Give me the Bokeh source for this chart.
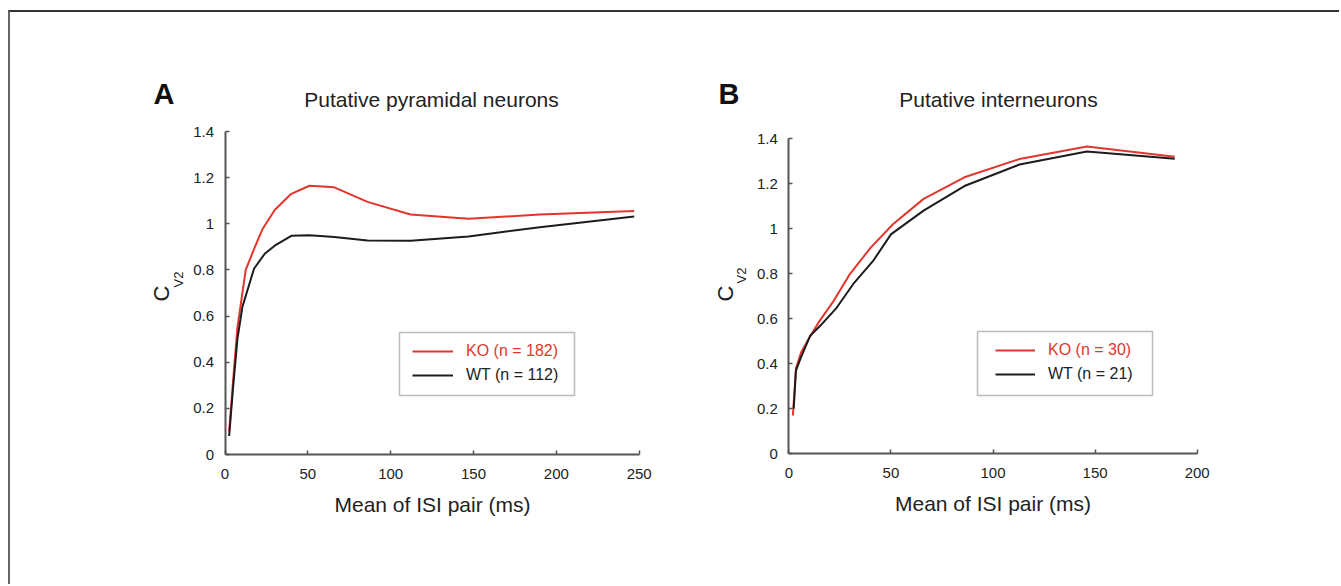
import math
from bokeh.plotting import figure
from bokeh.layouts import row
from bokeh.models import (FixedTicker, CustomJSTickFormatter, Label, BoxAnnotation,
                          Legend, LegendItem, Range1d)
from bokeh.embed import file_html
from bokeh.resources import INLINE

FONT = "Liberation Sans"
RED = "#e2362c"
BLACK = "#1c1c1c"
AXIS = "#555555"
TXT = "#222222"

# ---------------- data ----------------
# Panel A: putative pyramidal neurons
a_ko_x = [2.5, 5, 7.5, 12.5, 17.5, 22.5, 30, 40, 51, 66, 86, 112, 147, 190, 247]
a_ko_y = [0.10, 0.33, 0.55, 0.80, 0.89, 0.975, 1.06, 1.13, 1.165, 1.158, 1.095, 1.04, 1.022, 1.04, 1.055]
a_wt_x = [2.5, 5, 7.5, 10.5, 17.5, 24, 30, 40, 51, 66, 86, 112, 147, 190, 247]
a_wt_y = [0.08, 0.30, 0.50, 0.64, 0.805, 0.87, 0.905, 0.948, 0.95, 0.943, 0.928, 0.927, 0.945, 0.985, 1.032]

# Panel B: putative interneurons
b_ko_x = [2, 3.5, 6, 10, 15, 22, 30, 40, 51, 66, 86, 113, 146, 189]
b_ko_y = [0.17, 0.38, 0.45, 0.515, 0.59, 0.68, 0.80, 0.915, 1.02, 1.133, 1.229, 1.31, 1.366, 1.32]
b_wt_x = [2.4, 3.5, 6, 10.5, 15.5, 23.5, 32, 41.5, 50, 66, 86, 113, 146, 189]
b_wt_y = [0.20, 0.37, 0.43, 0.525, 0.57, 0.65, 0.76, 0.86, 0.975, 1.081, 1.19, 1.286, 1.344, 1.311]

y_ticks = [0, 0.2, 0.4, 0.6, 0.8, 1, 1.2, 1.4]
a_x_ticks = [0, 50, 100, 150, 200, 250]
b_x_ticks = [0, 50, 100, 150, 200]

a_title = "Putative pyramidal neurons"
b_title = "Putative interneurons"
x_label = "Mean of ISI pair (ms)"
a_legend = ["KO (n = 182)", "WT (n = 112)"]
b_legend = ["KO (n = 30)", "WT (n = 21)"]

# ---------------- layout (page pixels) ----------------
OX, OY = 10, 12          # content origin after margin + border
TOP_B, FH, BOT_B = 30, 480, 62
FRAME_TOP = OY + TOP_B
FRAME_BOT = FRAME_TOP + FH
K_BASE = 0.35            # empirical baseline correction (em)


def make_panel(letter, title, xmax, xticks, ko_x, ko_y, wt_x, wt_y, legend_texts, g):
    fl = g["fig_left"] + g["bl"]                   # frame left, page px
    sx = (g["ax_x1"] - g["ax_x0"]) / xmax          # px per x unit
    sy = (g["ax_y0"] - g["ax_y1"]) / 1.4           # px per y unit
    x0 = (fl - g["ax_x0"]) / sx
    x1 = x0 + g["fw"] / sx
    y0 = -(FRAME_BOT - g["ax_y0"]) / sy
    y1 = y0 + FH / sy

    def scr(px, py):
        return px - fl, FRAME_BOT - py

    p = figure(frame_width=g["fw"], frame_height=FH,
               x_range=Range1d(x0, x1), y_range=Range1d(y0, y1),
               output_backend="svg", toolbar_location=None,
               min_border_left=g["bl"], min_border_right=g["br"],
               min_border_top=TOP_B, min_border_bottom=BOT_B)
    p.outline_line_color = None
    p.grid.visible = False
    p.background_fill_color = "white"
    p.border_fill_color = "white"

    r_ko = p.line(ko_x, ko_y, line_color=RED, line_width=2)
    r_wt = p.line(wt_x, wt_y, line_color=BLACK, line_width=2)

    for ax in (p.xaxis[0], p.yaxis[0]):
        ax.axis_line_color = AXIS
        ax.axis_line_width = 2
        ax.major_tick_line_color = AXIS
        ax.major_tick_line_width = 1.5
        ax.major_tick_in = 4
        ax.major_tick_out = 0
        ax.minor_tick_line_color = None
        ax.major_label_text_font = FONT
        ax.major_label_text_font_size = "15px"
        ax.major_label_text_color = TXT
    p.xaxis.fixed_location = 0
    p.yaxis.fixed_location = 0
    p.xaxis.bounds = (0, xmax)
    p.yaxis.bounds = (0, 1.4)
    p.xaxis.ticker = FixedTicker(ticks=xticks)
    p.yaxis.ticker = FixedTicker(ticks=y_ticks)
    p.yaxis.formatter = CustomJSTickFormatter(code="return String(Math.round(tick*10)/10);")
    p.xaxis.major_label_standoff = 14
    p.yaxis.major_label_standoff = 11
    p.xaxis.axis_label = x_label
    p.xaxis.axis_label_text_font = FONT
    p.xaxis.axis_label_text_font_size = "21px"
    p.xaxis.axis_label_text_font_style = "normal"
    p.xaxis.axis_label_text_color = TXT
    p.xaxis.axis_label_standoff = 11

    def label(pos, text, size, rotated=False, **kw):
        px, py = pos
        d = K_BASE * size
        if rotated:
            px -= d
            kw["angle"] = math.pi / 2
        else:
            py -= d
        x, y = scr(px, py)
        p.add_layout(Label(x=x, y=y, x_units="screen", y_units="screen", text=text,
                           text_font=FONT, text_font_size=f"{size}px",
                           text_baseline="alphabetic", **kw))

    label(g["letter"], letter, 29, text_font_style="bold", text_color="#111111",
          text_align="left")
    label(g["title"], title, 21, text_color=TXT, text_align="center")
    label(g["c"], "C", 22, rotated=True, text_color=TXT, text_align="center")
    label(g["sub"], "V2", 13, rotated=True, text_color=TXT, text_align="left")

    bl_, bb_ = scr(g["box"][0], g["box"][3])
    br_, bt_ = scr(g["box"][1], g["box"][2])
    p.add_layout(BoxAnnotation(left=bl_, right=br_, bottom=bb_, top=bt_,
                               left_units="screen", right_units="screen",
                               bottom_units="screen", top_units="screen",
                               fill_color=None, fill_alpha=0,
                               line_color="#222222", line_width=1.5))
    for r, txt, col, rowy in ((r_ko, legend_texts[0], RED, g["leg_rows"][0]),
                              (r_wt, legend_texts[1], TXT, g["leg_rows"][1])):
        lx, ly = scr(g["leg_x"], rowy + 8)
        lg = Legend(items=[LegendItem(label=txt, renderers=[r])], location=(lx, ly),
                    border_line_color=None, background_fill_alpha=0,
                    padding=0, margin=0, spacing=0,
                    glyph_width=g["gw"], glyph_height=16, label_height=16,
                    label_standoff=13, label_text_font=FONT,
                    label_text_font_size="16px", label_text_color=col)
        p.add_layout(lg, "center")
    return p


geo_a = {"fig_left": OX, "bl": 50, "fw": 600, "br": 0,
         "ax_x0": 224.5, "ax_x1": 638.7, "ax_y0": 454.0, "ax_y1": 131.0,
         "letter": (153, 104), "title": (431, 106), "c": (169, 293), "sub": (183, 287),
         "box": (399, 574, 332, 395), "leg_x": 412, "leg_rows": (352, 376), "gw": 41}
geo_b = {"fig_left": OX + 650, "bl": 50, "fw": 510, "br": 119,
         "ax_x0": 788.3, "ax_x1": 1196.7, "ax_y0": 453.3, "ax_y1": 138.3,
         "letter": (718, 104), "title": (998, 106), "c": (733, 293), "sub": (746, 283),
         "box": (977, 1152, 331, 395), "leg_x": 995, "leg_rows": (351, 375), "gw": 40}

pA = make_panel("A", a_title, 250, a_x_ticks, a_ko_x, a_ko_y, a_wt_x, a_wt_y, a_legend, geo_a)
pB = make_panel("B", b_title, 200, b_x_ticks, b_ko_x, b_ko_y, b_wt_x, b_wt_y, b_legend, geo_b)

layout = row(pA, pB, margin=(10, 0, 0, 8),
             styles={"border-top": "2px solid #333333",
                     "border-left": "2px solid #666666"})

open("out.html", "w").write(file_html(layout, INLINE))
